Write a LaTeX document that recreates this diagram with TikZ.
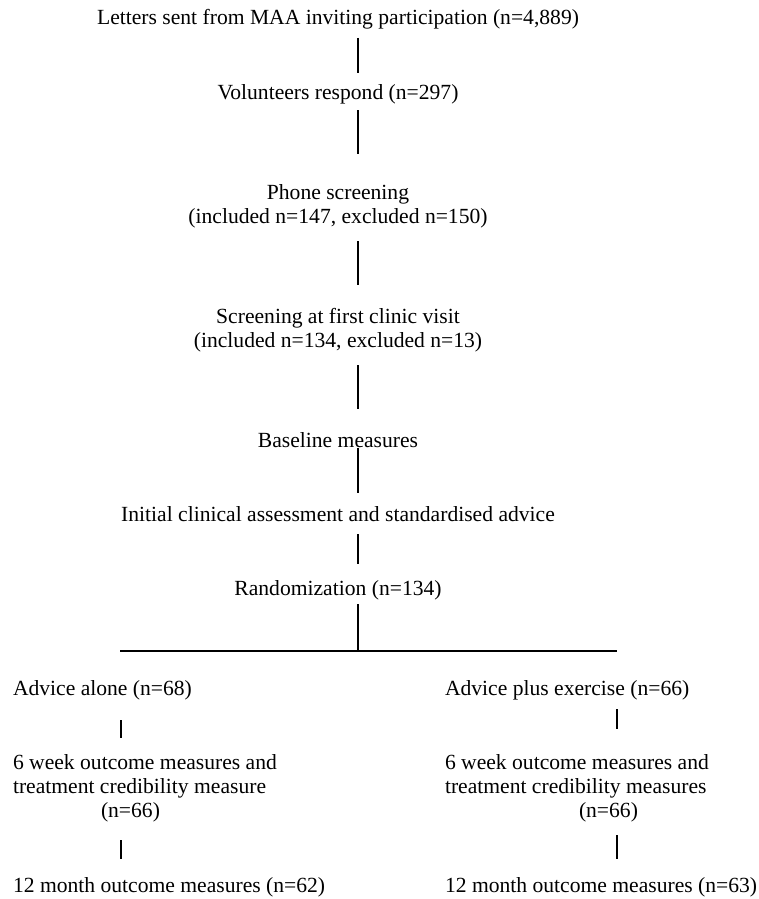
\documentclass[tikz,border=0pt]{standalone}
\usepackage{fontspec}
\setmainfont{Liberation Serif}
\begin{document}
\begin{tikzpicture}[x=1pt,y=-1pt,
  lbl/.style={inner sep=0pt,outer sep=0pt,font=\fontsize{21.6}{24}\selectfont},
  vline/.style={line width=1.5pt},
  thinline/.style={line width=1.1pt},
  hline/.style={line width=2pt}]
\useasboundingbox (0,0) rectangle (759,899);
% centre column (base anchor = baseline of last line)
\node[lbl,anchor=base] (t1) at (338,25) {Letters sent from MAA inviting participation (n=4,889)};
\node[lbl,anchor=base] (t2) at (338,99) {Volunteers respond (n=297)};
\node[lbl,anchor=base,align=center] (t3) at (338,223) {Phone screening\\(included n=147, excluded n=150)};
\node[lbl,anchor=base,align=center] (t4) at (338,347) {Screening at first clinic visit\\(included n=134, excluded n=13)};
\node[lbl,anchor=base] (t5) at (338,447) {Baseline measures};
\node[lbl,anchor=base] (t6) at (338,521) {Initial clinical assessment and standardised advice};
\node[lbl,anchor=base] (t7) at (338,595) {Randomization (n=134)};
% left arm
\node[lbl,anchor=base west] (a1) at (13,695) {Advice alone (n=68)};
\node[lbl,anchor=base west,align=left] (a2) at (13,817) {6 week outcome measures and\\treatment credibility measure\\\hspace*{88pt}(n=66)};
\node[lbl,anchor=base west] (a3) at (13,892) {12 month outcome measures (n=62)};
% right arm
\node[lbl,anchor=base west] (b1) at (445,695) {Advice plus exercise (n=66)};
\node[lbl,anchor=base west,align=left] (b2) at (445,817) {6 week outcome measures and\\treatment credibility measures\\\hspace*{134pt}(n=66)};
\node[lbl,anchor=base west] (b3) at (445,892) {12 month outcome measures (n=63)};
% connector end points
\coordinate (c1a) at (358,38);  \coordinate (c1b) at (358,73);
\coordinate (c2a) at (358,110); \coordinate (c2b) at (358,154);
\coordinate (c3a) at (358,241); \coordinate (c3b) at (358,285);
\coordinate (c4a) at (358,365); \coordinate (c4b) at (358,409);
\coordinate (c5a) at (358,448); \coordinate (c5b) at (358,493);
\coordinate (c6a) at (358,534); \coordinate (c6b) at (358,564);
\coordinate (c7a) at (358,604); \coordinate (c7b) at (358,651);
\coordinate (hl) at (120,651);  \coordinate (hr) at (617,651);
\coordinate (la1) at (121,720); \coordinate (la2) at (121,738);
\coordinate (lb1) at (121,840); \coordinate (lb2) at (121,859);
\coordinate (ra1) at (617,709); \coordinate (ra2) at (617,729);
\coordinate (rb1) at (617,835); \coordinate (rb2) at (617,859);
\draw[vline] (c1a) -- (c1b);
\draw[vline] (c2a) -- (c2b);
\draw[vline] (c3a) -- (c3b);
\draw[vline] (c4a) -- (c4b);
\draw[vline] (c5a) -- (c5b);
\draw[vline] (c6a) -- (c6b);
\draw[vline] (c7a) -- (c7b);
\draw[hline] (hl) -- (hr);
\draw[thinline] (la1) -- (la2);
\draw[thinline] (lb1) -- (lb2);
\draw[vline] (ra1) -- (ra2);
\draw[vline] (rb1) -- (rb2);
\end{tikzpicture}
\end{document}
